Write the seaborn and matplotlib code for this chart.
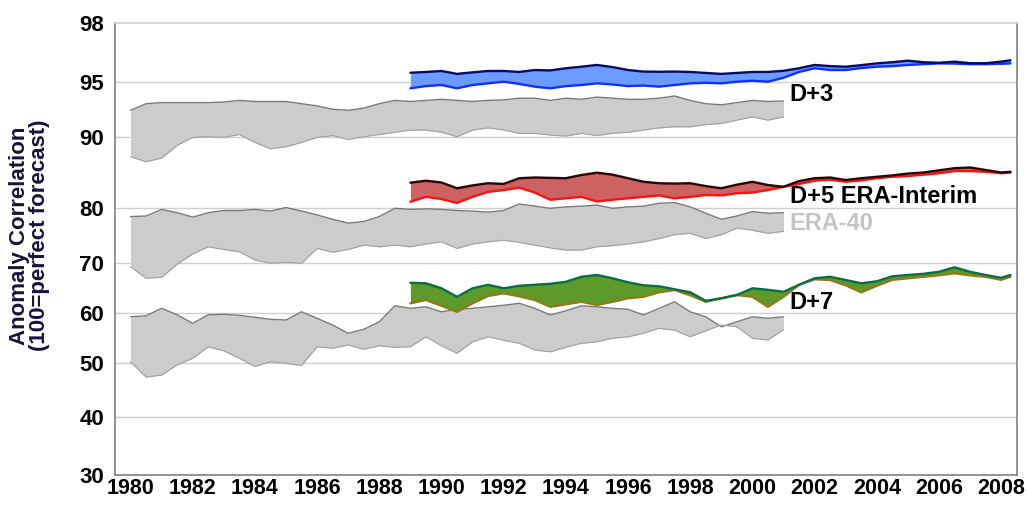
import numpy as np
import pandas as pd
import matplotlib
matplotlib.use("Agg")
import matplotlib.pyplot as plt
import seaborn as sns

# ---- data (12-month running means) ----
era40_years = np.arange(1980.5, 2001.6, 0.5)
erai_years = np.append(np.arange(1989.5, 2008.6, 0.5), 2008.8)

era40_d3_hi = [92.4, 93.0, 93.1, 93.1, 93.1, 93.1, 93.15, 93.3, 93.2, 93.2, 93.2, 93.0, 92.8, 92.5, 92.4,
               92.6, 93.0, 93.3, 93.2, 93.3, 93.4, 93.3, 93.2, 93.3, 93.35, 93.5, 93.5, 93.3, 93.5, 93.4,
               93.6, 93.5, 93.4, 93.4, 93.5, 93.7, 93.3, 93.0, 92.9, 93.1, 93.3, 93.2, 93.25]
era40_d3_lo = [87.2, 86.5, 87.0, 88.8, 89.9, 90.0, 89.9, 90.2, 89.2, 88.3, 88.6, 89.2, 89.9, 90.1, 89.6,
               90.0, 90.2, 90.4, 90.6, 90.6, 90.4, 90.0, 90.6, 90.8, 90.6, 90.3, 90.3, 90.15, 90.05, 90.3,
               90.1, 90.3, 90.4, 90.6, 90.8, 90.9, 90.9, 91.1, 91.2, 91.5, 91.8, 91.5, 91.8]
era40_d5_hi = [78.5, 78.6, 79.8, 79.2, 78.4, 79.2, 79.6, 79.6, 79.8, 79.5, 80.1, 79.5, 78.8, 78.0, 77.3,
               77.6, 78.5, 80.0, 79.8, 79.9, 79.8, 79.6, 79.5, 79.3, 79.6, 80.6, 80.3, 80.0, 80.2, 80.3,
               80.46, 80.0, 80.2, 80.3, 80.7, 80.8, 80.2, 79.1, 78.0, 78.6, 79.4, 79.1, 79.2]
era40_d5_lo = [69.3, 67.0, 67.2, 69.8, 71.7, 73.0, 72.5, 72.1, 70.6, 70.0, 70.2, 70.0, 72.7, 72.0, 72.5,
               73.3, 73.0, 73.3, 73.0, 73.5, 73.9, 72.7, 73.5, 73.9, 74.2, 73.8, 73.3, 72.8, 72.4, 72.4,
               73.0, 73.2, 73.5, 73.9, 74.5, 75.2, 75.45, 74.5, 75.2, 76.4, 76.0, 75.45, 75.8]
era40_d7_hi = [59.3, 59.5, 61.0, 59.7, 58.0, 59.7, 59.8, 59.6, 59.2, 58.8, 58.66, 60.3, 59.0, 57.66, 56.0,
               56.8, 58.3, 61.5, 61.0, 61.3, 60.3, 60.8, 61.0, 61.3, 61.6, 62.0, 61.0, 59.66, 60.5, 61.5,
               61.3, 61.0, 60.8, 59.66, 61.0, 62.3, 60.3, 59.3, 57.3, 58.3, 59.3, 59.0, 59.3]
era40_d7_lo = [50.3, 47.4, 47.8, 49.7, 51.0, 53.3, 52.5, 51.0, 49.4, 50.3, 50.0, 49.6, 53.3, 53.0, 53.66,
               52.8, 53.5, 53.2, 53.3, 55.3, 53.5, 52.0, 54.3, 55.3, 54.6, 54.0, 52.66, 52.3, 53.2, 54.0,
               54.3, 55.0, 55.3, 56.0, 57.0, 56.6, 55.3, 56.5, 57.66, 57.3, 55.0, 54.66, 56.7]

erai_d3_hi = [95.46, 95.5, 95.55, 95.4, 95.48, 95.55, 95.55, 95.5, 95.6, 95.58, 95.69, 95.77, 95.86, 95.75,
              95.6, 95.52, 95.51, 95.52, 95.5, 95.45, 95.4, 95.45, 95.5, 95.5, 95.56, 95.69, 95.86, 95.8,
              95.77, 95.85, 95.94, 96.0, 96.08, 96.0, 95.97, 96.03, 95.95, 95.95, 96.03, 96.1]
erai_d3_lo = [94.4, 94.6, 94.7, 94.4, 94.7, 94.85, 95.0, 94.8, 94.55, 94.4, 94.6, 94.7, 94.85, 94.75,
              94.6, 94.65, 94.55, 94.7, 94.85, 94.9, 94.85, 95.0, 95.05, 95.0, 95.2, 95.5, 95.69, 95.6,
              95.6, 95.7, 95.77, 95.8, 95.86, 95.9, 95.94, 95.93, 95.9, 95.9, 95.92, 95.94]
erai_d5_hi = [83.58, 83.85, 83.6, 82.8, 83.2, 83.5, 83.4, 84.2, 84.3, 84.25, 84.2, 84.65, 84.97, 84.7,
              84.2, 83.7, 83.5, 83.45, 83.5, 83.1, 82.8, 83.3, 83.7, 83.25, 83.0, 83.8, 84.2, 84.3,
              83.95, 84.2, 84.4, 84.6, 84.85, 85.0, 85.3, 85.6, 85.7, 85.35, 85.0, 85.1]
erai_d5_lo = [80.92, 81.6, 81.3, 80.75, 81.6, 82.3, 82.55, 82.9, 82.2, 81.2, 81.4, 81.6, 80.95, 81.2,
              81.4, 81.6, 81.8, 81.4, 81.6, 81.86, 81.8, 82.1, 82.2, 82.56, 83.0, 83.4, 83.85, 84.0,
              83.7, 83.9, 84.2, 84.4, 84.5, 84.7, 84.9, 85.2, 85.2, 85.1, 84.9, 84.97]
erai_d7_hi = [66.1, 66.0, 65.0, 63.3, 65.0, 65.7, 65.0, 65.5, 65.7, 65.9, 66.3, 67.3, 67.66, 67.0,
              66.2, 65.6, 65.4, 64.8, 64.2, 62.5, 63.0, 63.66, 65.0, 64.7, 64.3, 65.7, 67.0, 67.3,
              66.66, 66.0, 66.4, 67.4, 67.66, 67.9, 68.3, 69.2, 68.3, 67.66, 67.1, 67.66]
erai_d7_lo = [62.0, 62.66, 61.5, 60.3, 62.0, 63.46, 64.0, 63.4, 62.66, 61.3, 61.8, 62.3, 61.66, 62.3,
              63.0, 63.3, 64.2, 64.66, 63.6, 62.3, 63.0, 63.66, 63.3, 61.3, 63.3, 65.7, 66.8, 66.66,
              65.6, 64.2, 65.5, 66.7, 67.0, 67.3, 67.6, 68.0, 67.6, 67.3, 66.7, 67.3]

y_ticks = [30, 40, 50, 60, 70, 80, 90, 95, 98]
x_labels = list(range(1980, 2009, 2))

# ---- non-linear y axis: tick values -> positions measured on the original ----
tick_pos = np.array([0, 58.3, 111.7, 161.7, 211.7, 266.7, 338.3, 393.3, 451.7])


def fwd(v):
    return np.interp(v, y_ticks, tick_pos)


def inv(p):
    return np.interp(p, tick_pos, y_ticks)


sns.set_style("white")
plt.rcParams["font.family"] = ["Liberation Sans", "DejaVu Sans"]
plt.rcParams["font.weight"] = "bold"

fig = plt.figure(figsize=(10.28, 5.07), dpi=100)
ax = fig.add_axes([115 / 1028, 32 / 507, (1016.7 - 115) / 1028, (475 - 23.3) / 507])
ax.set_yscale("function", functions=(fwd, inv))

for y in y_ticks[1:-1]:
    ax.axhline(y, color="#cfcfcf", lw=1, zorder=0)

grey = "#cccccc"
grey_edge = "#7a7a7a"
bands_40 = [(era40_d3_lo, era40_d3_hi), (era40_d5_lo, era40_d5_hi), (era40_d7_lo, era40_d7_hi)]
for lo, hi in bands_40:
    ax.fill_between(era40_years, lo, hi, color=grey, lw=0, zorder=1)
    df = pd.DataFrame({"year": era40_years, "hi": hi, "lo": lo})
    sns.lineplot(data=df, x="year", y="hi", color=grey_edge, lw=1.0, ax=ax, zorder=2)
    sns.lineplot(data=df, x="year", y="lo", color="#a0a0a0", lw=0.8, ax=ax, zorder=2)

bands_i = [
    (erai_d3_lo, erai_d3_hi, "#6b9bff", "#0a0a60", "#1030ff"),
    (erai_d5_lo, erai_d5_hi, "#cc6262", "#2a0505", "#ff1010"),
    (erai_d7_lo, erai_d7_hi, "#5e9a2a", "#0b6d45", "#8f7a1c"),
]
for lo, hi, fill, c_hi, c_lo in bands_i:
    ax.fill_between(erai_years, lo, hi, color=fill, lw=0, zorder=3)
    df = pd.DataFrame({"year": erai_years, "hi": hi, "lo": lo})
    sns.lineplot(data=df, x="year", y="lo", color=c_lo, lw=1.7, ax=ax, zorder=4)
    sns.lineplot(data=df, x="year", y="hi", color=c_hi, lw=1.7, ax=ax, zorder=5)

lab = dict(fontsize=17, fontweight="bold", va="center", ha="left")
ax.text(2001.7, 93.8, "D+3", color="black", **lab)
ax.text(2001.7, 81.6, "D+5 ERA-Interim", color="black", **lab)
ax.text(2001.7, 77.15, "ERA-40", color="#c4c4c4", **lab)
ax.text(2001.7, 62.1, "D+7", color="black", **lab)

ax.set_xlim(1980, 2009)
ax.set_ylim(30, 98)
ax.set_yticks(y_ticks)
ax.set_yticklabels([str(v) for v in y_ticks], fontsize=16, fontweight="bold", color="black")
ax.set_xticks(range(1980, 2010))
ax.set_xticklabels([])
ax.set_xticks([y + 0.5 for y in x_labels], minor=True)
ax.set_xticklabels([str(y) for y in x_labels], minor=True, fontsize=15.5,
                   fontweight="bold", color="black")
ax.tick_params(axis="x", which="major", direction="out", length=5, color="#808080", width=1)
ax.tick_params(axis="x", which="minor", length=0, pad=2)
ax.tick_params(axis="y", direction="out", length=6, color="#808080", width=1, pad=2)

ax.set_xlabel("")
ax.set_ylabel("Anomaly Correlation\n(100=perfect forecast)", fontsize=16,
              fontweight="bold", color="#14143c", linespacing=0.95)
ax.yaxis.set_label_coords(-0.072, 0.53)

for side in ["left", "bottom", "right", "top"]:
    ax.spines[side].set_color("#808080")
    ax.spines[side].set_linewidth(1.2)
ax.spines["top"].set_color("#d0d0d0")

fig.savefig("out.png", dpi=100, facecolor="white")
